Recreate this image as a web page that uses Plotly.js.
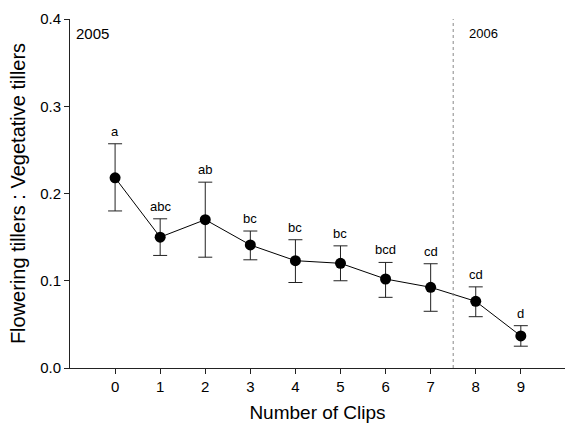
<!DOCTYPE html>
<html><head><meta charset="utf-8">
<script src="https://cdn.plot.ly/plotly-3.0.1.min.js"></script>
<style>html,body{margin:0;padding:0;background:#fff}#chart{width:566px;height:424px}</style>
</head><body><div id="chart"></div>
<script>
const clips = [0, 1, 2, 3, 4, 5, 6, 7, 8, 9];
const ratio = [0.218, 0.150, 0.170, 0.141, 0.123, 0.120, 0.102, 0.0925, 0.0764, 0.0367];
const errUpper = [0.257, 0.171, 0.213, 0.157, 0.147, 0.140, 0.121, 0.1195, 0.093, 0.0485];
const errLower = [0.180, 0.129, 0.127, 0.124, 0.098, 0.100, 0.081, 0.065, 0.0588, 0.025];
const groups = ['a', 'abc', 'ab', 'bc', 'bc', 'bc', 'bcd', 'cd', 'cd', 'd'];
const yearLabels = ['2005', '2006'];
const yearBoundary = 7.5;

const plus = ratio.map((v, i) => errUpper[i] - v);
const minus = ratio.map((v, i) => v - errLower[i]);
const FONT = 'Arial, Liberation Sans, sans-serif';

const trace = {
  x: clips, y: ratio, type: 'scatter', mode: 'lines+markers',
  line: {color: '#000', width: 1},
  marker: {color: '#000', size: 11},
  error_y: {type: 'data', symmetric: false, array: plus, arrayminus: minus,
            color: '#222', thickness: 1, width: 7},
  hoverinfo: 'none'
};

const annotations = clips.map((c, i) => ({
  x: c, y: errUpper[i], xref: 'x', yref: 'y', text: groups[i],
  showarrow: false, yanchor: 'bottom', yshift: 3,
  font: {family: FONT, size: 13, color: '#000'}
}));
annotations.push({x: 0, y: 1, xref: 'paper', yref: 'paper', xanchor: 'left', yanchor: 'top',
  xshift: 4, yshift: -4, text: yearLabels[0], showarrow: false,
  font: {family: FONT, size: 15, color: '#000'}});
annotations.push({x: yearBoundary, y: 1, xref: 'x', yref: 'paper', xanchor: 'left', yanchor: 'top',
  xshift: 14, yshift: -5, text: yearLabels[1], showarrow: false,
  font: {family: FONT, size: 13, color: '#000'}});

const layout = {
  width: 566, height: 424,
  margin: {l: 70, r: 1, t: 19, b: 56},
  paper_bgcolor: '#fff', plot_bgcolor: '#fff',
  showlegend: false,
  font: {family: FONT, color: '#000'},
  xaxis: {
    range: [-1, 9.98], tickvals: clips, ticks: 'outside', ticklen: 5, tickcolor: '#222',
    showline: true, linecolor: '#222', linewidth: 1, showgrid: false, zeroline: false,
    tickfont: {size: 15}, title: {text: 'Number of Clips', font: {size: 19}, standoff: 11}
  },
  yaxis: {
    range: [0, 0.4], tickvals: [0, 0.1, 0.2, 0.3, 0.4], ticktext: ['0.0', '0.1', '0.2', '0.3', '0.4'],
    ticks: 'outside', ticklen: 5, tickcolor: '#222',
    showline: true, linecolor: '#222', linewidth: 1, showgrid: false, zeroline: false,
    tickfont: {size: 15}, title: {text: 'Flowering tillers : Vegetative tillers', font: {size: 20}, standoff: 9}
  },
  shapes: [{type: 'line', xref: 'x', yref: 'paper', x0: yearBoundary, x1: yearBoundary, y0: 0, y1: 1,
    line: {color: '#888', width: 1, dash: 'dot'}}],
  annotations: annotations
};

Plotly.newPlot('chart', [trace], layout, {displayModeBar: false, staticPlot: true});
</script>
</body></html>
